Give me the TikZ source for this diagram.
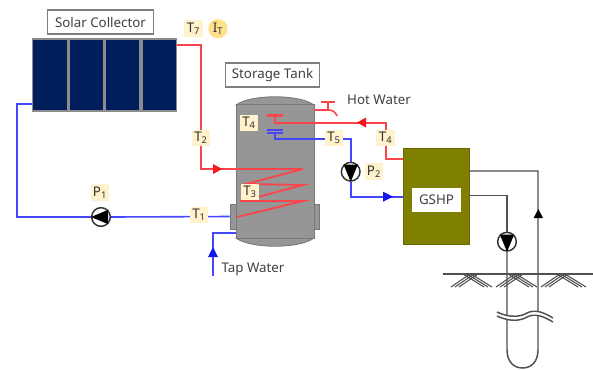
\documentclass[tikz,border=0pt]{standalone}
\usepackage{fontspec}
\setmainfont{Noto Sans}
\tikzset{
  textbox/.style={draw={rgb,255:red,127;green,127;blue,127},fill=white,line width=0.8pt,inner sep=0pt,font=\fontsize{10}{12}\selectfont,text={rgb,255:red,64;green,64;blue,64}},
  tag/.style={fill={rgb,255:red,255;green,242;blue,204},inner sep=0pt,minimum width=14pt,minimum height=12.5pt,font=\fontsize{10}{12}\selectfont,text={rgb,255:red,50;green,50;blue,50}},
  plain/.style={inner sep=0pt,font=\fontsize{10}{12}\selectfont,text={rgb,255:red,64;green,64;blue,64}},
  redpipe/.style={draw={rgb,255:red,250;green,70;blue,75},line width=1.2pt},
  bluepipe/.style={draw={rgb,255:red,70;green,70;blue,250},line width=1.2pt},
  groundpipe/.style={draw={rgb,255:red,80;green,80;blue,80},line width=1.1pt},
  pump/.style={circle,draw={rgb,255:red,50;green,50;blue,50},fill=white,line width=1.1pt,inner sep=0pt,minimum size=14pt},
  steel/.style={fill={rgb,255:red,150;green,150;blue,150},draw={rgb,255:red,120;green,120;blue,120},line width=0.6pt},
  lug/.style={steel,inner sep=0pt,minimum width=4.5pt,minimum height=18.75pt},
  panel/.style={fill={rgb,255:red,0;green,30;blue,90}},
  redtip/.style={fill={rgb,255:red,250;green,20;blue,30}},
  bluetip/.style={fill={rgb,255:red,20;green,20;blue,240}}
}
\begin{document}
\begin{tikzpicture}[x=0.75pt,y=0.75pt,yscale=-1,xscale=1]
\useasboundingbox (0,0) rectangle (593,369);

%Solar collector
\node [fill={rgb,255:red,140;green,140;blue,140},inner sep=0pt,minimum width=108.75pt,minimum height=56pt] (collector) at (104.5,75) {};
\fill [panel] (33,40) rectangle (67,110);
\fill [panel] (70,40) rectangle (103,110);
\fill [panel] (106,40) rectangle (139,110);
\fill [panel] (143,40) rectangle (176,110);
\coordinate (collout) at (177,45);
\coordinate (collin) at (32,104);
\coordinate (redbend) at (201,169);
\coordinate (bluebend) at (17,217);

%Storage tank
\node [lug] (lugleft) at (233,216.5) {};
\node [lug] (lugright) at (316.5,216.5) {};
\draw [steel] (236,238) .. controls (250,249) and (300,249) .. (314,238) -- cycle;
\draw [steel] (236,105) .. controls (250,94) and (300,94) .. (314,105) -- cycle;
\node [steel,inner sep=0pt,minimum width=58.5pt,minimum height=100pt] (tank) at (275,171.5) {};

%GSHP
\node [fill={rgb,255:red,127;green,127;blue,0},draw={rgb,255:red,105;green,105;blue,0},line width=0.6pt,inner sep=0pt,minimum width=49.5pt,minimum height=72pt] (gshp) at (436,196) {};

%Pumps
\node [pump] (pumpone) at (101,217) {};
\node [pump] (pumptwo) at (350.7,171.7) {};
\node [pump] (pumpthree) at (507,241.7) {};
\fill (pumpone.west) -- (pumpone.north east) -- (pumpone.south east) -- cycle;
\fill (pumptwo.south) -- (pumptwo.north east) -- (pumptwo.north west) -- cycle;
\fill (pumpthree.south) -- (pumpthree.north east) -- (pumpthree.north west) -- cycle;

%Collector loop
\draw [redpipe] (collout) -| (redbend) -- (303,169);
\path [redtip] (213,164) -- (222,169) -- (213,174) -- cycle;
\draw [bluepipe] (collin) -| (bluebend) -- (pumpone.west);
\draw [bluepipe] (pumpone.east) -- (lugleft.west);

%Coil
\draw [redpipe,line width=1.4pt] (303,169) -- (246,184) -- (303,185) -- (250,199) (240,201) -- (303,201) -- (237,217);

%Tap water
\coordinate (tapin) at (213,276);
\coordinate (tapend) at (236,233);
\draw [bluepipe] (tapin) |- (tapend);
\path [bluetip] (213,247) -- (218,257) -- (208,257) -- cycle;

%Hot water outlet
\draw [redpipe] (321,102) -- (335,102) (328,102) -- (328,110);
\draw [redpipe] (314,110) -- (329,110) .. controls (333,110) and (336,113) .. (337,116);

%Hot side
\coordinate (hottee) at (275,115.5);
\coordinate (hotbend) at (386,123);
\coordinate (hotend) at (403,159);
\draw [redpipe,line width=2.2pt] (267,115.5) -- (283,115.5);
\draw [redpipe] (hottee) |- (hotbend) |- (hotend);
\path [redtip] (357,122.5) -- (366,117.5) -- (366,127.5) -- cycle;

%Cold side
\coordinate (coldtee) at (275,132.5);
\coordinate (coldbend) at (350.7,139);
\coordinate (coldend) at (403,197);
\draw [bluepipe,line width=1pt] (267,130) -- (283,130) (267,133) -- (283,133);
\draw [bluepipe] (coldtee) |- (coldbend) -- (pumptwo.north);
\draw [bluepipe] (pumptwo.south) |- (coldend);
\path [bluetip] (393,196.7) -- (383,191.7) -- (383,201.7) -- cycle;

%Ground
\draw [groundpipe] (443,274) -- (593,274);
\draw [draw={rgb,255:red,80;green,80;blue,80},line width=0.8pt] (451,287) -- (470,274) (455,287) -- (474,274) (459,287) -- (478,274) (492,287) -- (471,274) (488,287) -- (467,274) (484,287) -- (463,274)
 (496,287) -- (515,274) (500,287) -- (519,274) (504,287) -- (523,274) (537,287) -- (516,274) (533,287) -- (512,274) (529,287) -- (508,274)
 (541,287) -- (560,274) (545,287) -- (564,274) (549,287) -- (568,274) (586,287) -- (565,274) (582,287) -- (561,274) (578,287) -- (557,274);

%Borehole loop
\coordinate (loopone) at (469,171);
\coordinate (loopcorner) at (538,350);
\coordinate (looptwo) at (469,195.7);
\coordinate (loopthree) at (507,350);
\draw [groundpipe] (loopone) -| (loopcorner) .. controls (538,362) and (531,368) .. (522.5,368) .. controls (514,368) and (507,362) .. (loopthree) -- (pumpthree.south);
\draw [groundpipe] (looptwo) -| (pumpthree.north);
\fill (538.3,209) -- (543,218) -- (533.6,218) -- cycle;

%Break
\fill [white] (497,312) .. controls (512,319) and (522,316) .. (527,313) .. controls (535,309) and (543,312) .. (553,318) -- (553,322) .. controls (543,316) and (535,313) .. (527,317) .. controls (522,320) and (512,323) .. (497,316) -- cycle;
\draw [groundpipe] (497,312) .. controls (512,319) and (522,316) .. (527,313) .. controls (535,309) and (543,312) .. (553,318);
\draw [groundpipe] (497,316) .. controls (512,323) and (522,320) .. (527,317) .. controls (535,313) and (543,316) .. (553,322);

% Text Node
\node [textbox,minimum width=80pt,minimum height=18pt] (collectorname) at (100.5,22) {Solar Collector};
% Text Node
\node [textbox,minimum width=71pt,minimum height=18pt] (tankname) at (272.5,75) {Storage Tank};
% Text Node
\node [textbox,draw=none,minimum width=36.5pt,minimum height=18pt] (gshpname) at (436.5,200) {GSHP};
% Text Node
\node [plain] (hotname) at (379,100) {Hot Water};
% Text Node
\node [plain] (tapname) at (253,269) {Tap Water};
% Text Node
\node [tag] (tseven) at (193.5,28.5) {T\textsubscript{7}};
% Text Node
\node [tag,circle,minimum size=14.5pt,minimum width=14.5pt,minimum height=14.5pt,fill={rgb,255:red,255;green,225;blue,140}] (irradiance) at (218,28.7) {I\textsubscript{T}};
% Text Node
\node [tag] (ttwo) at (201,138) {T\textsubscript{2}};
% Text Node
\node [tag] (tone) at (199,215) {T\textsubscript{1}};
% Text Node
\node [tag] (pone) at (100,192.7) {P\textsubscript{1}};
% Text Node
\node [tag] (tfour) at (249,123) {T\textsubscript{4}};
% Text Node
\node [tag] (tthree) at (250,192) {T\textsubscript{3}};
% Text Node
\node [tag] (tfive) at (334,138) {T\textsubscript{5}};
% Text Node
\node [tag] (tsupply) at (385.7,138) {T\textsubscript{4}};
% Text Node
\node [tag] (ptwo) at (374,171.7) {P\textsubscript{2}};

\end{tikzpicture}
\end{document}
